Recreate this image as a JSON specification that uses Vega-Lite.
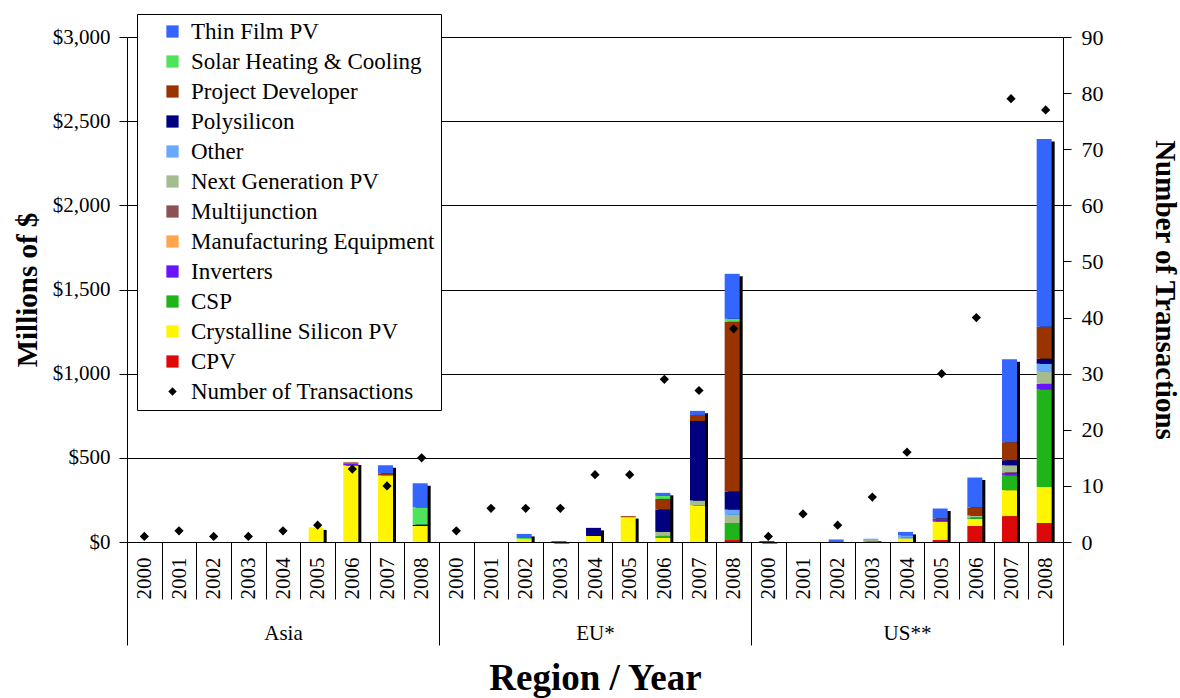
{
  "$schema": "https://vega.github.io/schema/vega-lite/v6.json",
  "width": 936,
  "height": 505,
  "autosize": {"type": "none"},
  "padding": {"left": 127, "top": 37, "right": 117, "bottom": 156},
  "background": "white",
  "config": {"view": {"stroke": null}, "font": "Liberation Serif"},
  "datasets": {
    "types": [
      {"t": "CPV", "k": 1}, {"t": "Crystalline Silicon PV", "k": 2}, {"t": "CSP", "k": 3},
      {"t": "Inverters", "k": 4}, {"t": "Manufacturing Equipment", "k": 5}, {"t": "Multijunction", "k": 6},
      {"t": "Next Generation PV", "k": 7}, {"t": "Other", "k": 8}, {"t": "Polysilicon", "k": 9},
      {"t": "Project Developer", "k": 10}, {"t": "Solar Heating & Cooling", "k": 11}, {"t": "Thin Film PV", "k": 12}
    ],
    "bars": [
      {"cat": "Asia 2005", "t": "Crystalline Silicon PV", "v": 87},
      {"cat": "Asia 2006", "t": "Crystalline Silicon PV", "v": 455},
      {"cat": "Asia 2006", "t": "Inverters", "v": 12},
      {"cat": "Asia 2006", "t": "Project Developer", "v": 6},
      {"cat": "Asia 2007", "t": "Crystalline Silicon PV", "v": 396},
      {"cat": "Asia 2007", "t": "Project Developer", "v": 12},
      {"cat": "Asia 2007", "t": "Thin Film PV", "v": 48},
      {"cat": "Asia 2008", "t": "Crystalline Silicon PV", "v": 95},
      {"cat": "Asia 2008", "t": "Polysilicon", "v": 8},
      {"cat": "Asia 2008", "t": "Solar Heating & Cooling", "v": 103},
      {"cat": "Asia 2008", "t": "Thin Film PV", "v": 143},
      {"cat": "EU* 2002", "t": "Crystalline Silicon PV", "v": 18},
      {"cat": "EU* 2002", "t": "Solar Heating & Cooling", "v": 6},
      {"cat": "EU* 2002", "t": "Thin Film PV", "v": 24},
      {"cat": "EU* 2003", "t": "Thin Film PV", "v": 6},
      {"cat": "EU* 2004", "t": "Crystalline Silicon PV", "v": 36},
      {"cat": "EU* 2004", "t": "Polysilicon", "v": 48},
      {"cat": "EU* 2005", "t": "Crystalline Silicon PV", "v": 143},
      {"cat": "EU* 2005", "t": "Manufacturing Equipment", "v": 6},
      {"cat": "EU* 2005", "t": "Project Developer", "v": 5},
      {"cat": "EU* 2006", "t": "Crystalline Silicon PV", "v": 24},
      {"cat": "EU* 2006", "t": "CSP", "v": 12},
      {"cat": "EU* 2006", "t": "Next Generation PV", "v": 24},
      {"cat": "EU* 2006", "t": "Polysilicon", "v": 133},
      {"cat": "EU* 2006", "t": "Project Developer", "v": 63},
      {"cat": "EU* 2006", "t": "Solar Heating & Cooling", "v": 18},
      {"cat": "EU* 2006", "t": "Thin Film PV", "v": 18},
      {"cat": "EU* 2007", "t": "Crystalline Silicon PV", "v": 216},
      {"cat": "EU* 2007", "t": "Next Generation PV", "v": 30},
      {"cat": "EU* 2007", "t": "Polysilicon", "v": 473},
      {"cat": "EU* 2007", "t": "Project Developer", "v": 36},
      {"cat": "EU* 2007", "t": "Thin Film PV", "v": 24},
      {"cat": "EU* 2008", "t": "CPV", "v": 12},
      {"cat": "EU* 2008", "t": "CSP", "v": 101},
      {"cat": "EU* 2008", "t": "Next Generation PV", "v": 48},
      {"cat": "EU* 2008", "t": "Other", "v": 32},
      {"cat": "EU* 2008", "t": "Polysilicon", "v": 107},
      {"cat": "EU* 2008", "t": "Project Developer", "v": 1008},
      {"cat": "EU* 2008", "t": "Solar Heating & Cooling", "v": 18},
      {"cat": "EU* 2008", "t": "Thin Film PV", "v": 267},
      {"cat": "US** 2000", "t": "CPV", "v": 6},
      {"cat": "US** 2002", "t": "Thin Film PV", "v": 15},
      {"cat": "US** 2003", "t": "CPV", "v": 3},
      {"cat": "US** 2003", "t": "Next Generation PV", "v": 12},
      {"cat": "US** 2003", "t": "Thin Film PV", "v": 4},
      {"cat": "US** 2004", "t": "Crystalline Silicon PV", "v": 18},
      {"cat": "US** 2004", "t": "Next Generation PV", "v": 10},
      {"cat": "US** 2004", "t": "Other", "v": 12},
      {"cat": "US** 2004", "t": "Thin Film PV", "v": 20},
      {"cat": "US** 2005", "t": "CPV", "v": 12},
      {"cat": "US** 2005", "t": "Crystalline Silicon PV", "v": 107},
      {"cat": "US** 2005", "t": "CSP", "v": 5},
      {"cat": "US** 2005", "t": "Inverters", "v": 6},
      {"cat": "US** 2005", "t": "Project Developer", "v": 10},
      {"cat": "US** 2005", "t": "Thin Film PV", "v": 59},
      {"cat": "US** 2006", "t": "CPV", "v": 95},
      {"cat": "US** 2006", "t": "Crystalline Silicon PV", "v": 42},
      {"cat": "US** 2006", "t": "CSP", "v": 8},
      {"cat": "US** 2006", "t": "Next Generation PV", "v": 12},
      {"cat": "US** 2006", "t": "Project Developer", "v": 48},
      {"cat": "US** 2006", "t": "Thin Film PV", "v": 178},
      {"cat": "US** 2007", "t": "CPV", "v": 154},
      {"cat": "US** 2007", "t": "Crystalline Silicon PV", "v": 154},
      {"cat": "US** 2007", "t": "CSP", "v": 89},
      {"cat": "US** 2007", "t": "Inverters", "v": 12},
      {"cat": "US** 2007", "t": "Multijunction", "v": 5},
      {"cat": "US** 2007", "t": "Next Generation PV", "v": 42},
      {"cat": "US** 2007", "t": "Polysilicon", "v": 30},
      {"cat": "US** 2007", "t": "Project Developer", "v": 107},
      {"cat": "US** 2007", "t": "Thin Film PV", "v": 493},
      {"cat": "US** 2008", "t": "CPV", "v": 113},
      {"cat": "US** 2008", "t": "Crystalline Silicon PV", "v": 214},
      {"cat": "US** 2008", "t": "CSP", "v": 580},
      {"cat": "US** 2008", "t": "Inverters", "v": 32},
      {"cat": "US** 2008", "t": "Manufacturing Equipment", "v": 5},
      {"cat": "US** 2008", "t": "Next Generation PV", "v": 71},
      {"cat": "US** 2008", "t": "Other", "v": 44},
      {"cat": "US** 2008", "t": "Polysilicon", "v": 30},
      {"cat": "US** 2008", "t": "Project Developer", "v": 190},
      {"cat": "US** 2008", "t": "Thin Film PV", "v": 1115}
    ],
    "tx": [
      {"cat": "Asia 2000", "n": 1}, {"cat": "Asia 2001", "n": 2}, {"cat": "Asia 2002", "n": 1},
      {"cat": "Asia 2003", "n": 1}, {"cat": "Asia 2004", "n": 2}, {"cat": "Asia 2005", "n": 3},
      {"cat": "Asia 2006", "n": 13}, {"cat": "Asia 2007", "n": 10}, {"cat": "Asia 2008", "n": 15},
      {"cat": "EU* 2000", "n": 2}, {"cat": "EU* 2001", "n": 6}, {"cat": "EU* 2002", "n": 6},
      {"cat": "EU* 2003", "n": 6}, {"cat": "EU* 2004", "n": 12}, {"cat": "EU* 2005", "n": 12},
      {"cat": "EU* 2006", "n": 29}, {"cat": "EU* 2007", "n": 27}, {"cat": "EU* 2008", "n": 38},
      {"cat": "US** 2000", "n": 1}, {"cat": "US** 2001", "n": 5}, {"cat": "US** 2002", "n": 3},
      {"cat": "US** 2003", "n": 8}, {"cat": "US** 2004", "n": 16}, {"cat": "US** 2005", "n": 30},
      {"cat": "US** 2006", "n": 40}, {"cat": "US** 2007", "n": 79}, {"cat": "US** 2008", "n": 77}
    ],
    "regions": [{"region": "Asia"}, {"region": "EU*"}, {"region": "US**"}]
  },
  "layer": [
    {
      "layer": [
        {
          "data": {"name": "bars"},
          "transform": [
            {"lookup": "t", "from": {"data": {"name": "types"}, "key": "t", "fields": ["k"]}}
          ],
          "layer": [
            {
              "mark": {"type": "bar", "size": 15, "xOffset": 1.5, "yOffset": 2.5, "color": "black"},
              "encoding": {
                "x": {
                  "field": "cat", "type": "nominal",
                  "scale": {
                    "domain": ["Asia 2000","Asia 2001","Asia 2002","Asia 2003","Asia 2004","Asia 2005","Asia 2006","Asia 2007","Asia 2008",
                               "EU* 2000","EU* 2001","EU* 2002","EU* 2003","EU* 2004","EU* 2005","EU* 2006","EU* 2007","EU* 2008",
                               "US** 2000","US** 2001","US** 2002","US** 2003","US** 2004","US** 2005","US** 2006","US** 2007","US** 2008"],
                    "paddingInner": 0, "paddingOuter": 0
                  },
                  "axis": {
                    "title": null,
                    "labelExpr": "slice(datum.label, -4)",
                    "labelAngle": -90,
                    "labelAlign": "right",
                    "labelBaseline": "middle",
                    "tickBand": "extent",
                    "tickSize": 57,
                    "labelPadding": -42,
                    "domainColor": "black",
                    "tickColor": "black",
                    "labelFont": "Liberation Serif",
                    "labelFontSize": 21,
                    "labelColor": "black",
                    "grid": false
                  }
                },
                "y": {
                  "aggregate": "sum", "field": "v", "type": "quantitative",
                  "scale": {"domain": [0, 3000]},
                  "axis": {
                    "title": "Millions of $",
                    "values": [0, 500, 1000, 1500, 2000, 2500, 3000],
                    "format": "$,.0f",
                    "grid": true,
                    "gridColor": "black",
                    "gridWidth": 1,
                    "domainColor": "black",
                    "tickColor": "black",
                    "tickSize": 8,
                    "labelPadding": 9,
                    "labelFont": "Liberation Serif",
                    "labelFontSize": 21,
                    "labelColor": "black",
                    "titleFont": "Liberation Serif",
                    "titleFontSize": 29,
                    "titleFontWeight": "bold",
                    "titleColor": "black",
                    "titlePadding": 10
                  }
                }
              }
            },
            {
              "mark": {"type": "bar", "size": 15, "xOffset": -1.5},
              "encoding": {
                "x": {"field": "cat", "type": "nominal"},
                "y": {"field": "v", "type": "quantitative", "stack": "zero"},
                "order": {"field": "k", "type": "quantitative", "sort": "ascending"},
                "color": {
                  "field": "t", "type": "nominal",
                  "scale": {
                    "domain": ["Thin Film PV","Solar Heating & Cooling","Project Developer","Polysilicon","Other","Next Generation PV","Multijunction","Manufacturing Equipment","Inverters","CSP","Crystalline Silicon PV","CPV","Number of Transactions"],
                    "range": ["#3366ff","#4de35a","#993300","#000080","#66a9ff","#a5bd8e","#8a5252","#ffa64d","#6a11ff","#1fb51a","#fff500","#dd0909","#000000"]
                  },
                  "legend": {
                    "title": null,
                    "orient": "none",
                    "legendX": 10,
                    "legendY": -23,
                    "fillColor": "white",
                    "strokeColor": "black",
                    "padding": 6,
                    "symbolOffset": 18,
                    "labelOffset": 7,
                    "rowPadding": 6,
                    "symbolType": "square",
                    "symbolSize": 150,
                    "symbolStrokeWidth": 0,
                    "labelFont": "Liberation Serif",
                    "labelFontSize": 23,
                    "labelColor": "black",
                    "labelLimit": 400,
                    "encode": {
                      "symbols": {
                        "update": {
                          "shape": {"signal": "datum.value === 'Number of Transactions' ? 'diamond' : 'square'"},
                          "size": {"signal": "datum.value === 'Number of Transactions' ? 70 : 150"}
                        }
                      }
                    }
                  }
                }
              }
            }
          ]
        },
        {
          "data": {"name": "tx"},
          "mark": {"type": "point", "shape": "diamond", "filled": true, "size": 85, "opacity": 1},
          "encoding": {
            "x": {"field": "cat", "type": "nominal"},
            "y": {
              "field": "n", "type": "quantitative",
              "scale": {"domain": [0, 90]},
              "axis": {
                "orient": "right",
                "title": "Number of Transactions",
                "values": [0, 10, 20, 30, 40, 50, 60, 70, 80, 90],
                "grid": false,
                "domainColor": "black",
                "tickColor": "black",
                "tickSize": 8,
                "labelPadding": 10,
                "labelFont": "Liberation Serif",
                "labelFontSize": 22,
                "labelColor": "black",
                "titleFont": "Liberation Serif",
                "titleFontSize": 29,
                "titleFontWeight": "bold",
                "titleColor": "black",
                "titlePadding": 46
              }
            },
            "color": {"datum": "Number of Transactions"}
          }
        }
      ],
      "resolve": {"scale": {"y": "independent"}}
    },
    {
      "data": {"name": "regions"},
      "mark": {"type": "point", "opacity": 0},
      "encoding": {
        "x": {
          "field": "region", "type": "nominal",
          "scale": {"type": "band", "domain": ["Asia", "EU*", "US**"], "paddingInner": 0, "paddingOuter": 0},
          "axis": {
            "orient": "bottom",
            "title": "Region / Year",
            "domain": false,
            "grid": false,
            "tickBand": "extent",
            "tickSize": 103,
            "tickColor": "black",
            "labelAngle": 0,
            "labelBaseline": "top",
            "labelPadding": -23,
            "labelFont": "Liberation Serif",
            "labelFontSize": 21,
            "labelColor": "black",
            "titleFont": "Liberation Serif",
            "titleFontSize": 37,
            "titleFontWeight": "bold",
            "titleColor": "black",
            "titlePadding": 15
          }
        }
      }
    }
  ],
  "resolve": {"scale": {"x": "independent"}}
}
